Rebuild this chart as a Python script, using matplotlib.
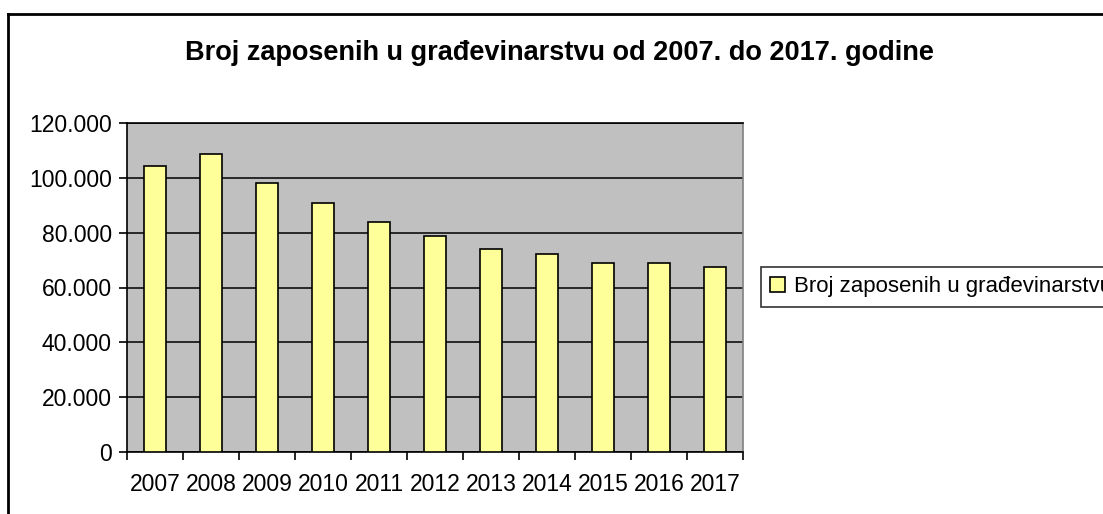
import numpy as np
import matplotlib
matplotlib.use('Agg')
import matplotlib.pyplot as plt
from matplotlib.ticker import FuncFormatter, FixedLocator
from matplotlib.patches import Patch
from matplotlib.lines import Line2D

# =====================================================================
# DATA
# =====================================================================
years = ['2007', '2008', '2009', '2010', '2011', '2012', '2013', '2014', '2015', '2016', '2017']
employed = [104300, 108800, 98000, 91000, 84000, 78900, 73900, 72100, 68800, 68800, 67500]
y_ticks = [0, 20000, 40000, 60000, 80000, 100000, 120000]

TITLE = "Broj zaposenih u građevinarstvu od 2007. do 2017. godine"
SERIES = "Broj zaposenih u građevinarstvu"

plt.rcParams['font.family'] = ['Liberation Sans', 'DejaVu Sans']

# =====================================================================
# FIGURE
# =====================================================================
fig = plt.figure(figsize=(11.03, 5.14), dpi=100)
fig.patch.set_facecolor('white')
ax = fig.add_axes([127 / 1103, 1 - 452 / 514, (743 - 127) / 1103, (452 - 123) / 514])
ax.set_facecolor('#C0C0C0')

x = np.arange(len(years))
ax.bar(x, employed, width=0.41, color='#FFFF99', edgecolor='black', linewidth=1.2, zorder=3)

ax.set_xlim(-0.5, len(years) - 0.5)
ax.set_ylim(0, 120000)
ax.set_yticks(y_ticks)
ax.yaxis.set_major_formatter(FuncFormatter(lambda v, p: f"{int(v):,}".replace(',', '.')))
ax.grid(True, axis='y', color='black', linewidth=1.1, zorder=1)

# category labels in the middle, tick marks between categories
ax.set_xticks(x)
ax.set_xticklabels(years)
ax.xaxis.set_minor_locator(FixedLocator(np.arange(-0.5, len(years), 1.0)))
ax.tick_params(axis='x', which='major', length=0, pad=15, labelsize=16.5)
ax.tick_params(axis='x', which='minor', length=6, width=1.2, direction='out')
ax.tick_params(axis='y', length=6, width=1.2, direction='out', pad=5, labelsize=16.5)

for s in ['left', 'bottom', 'top']:
    ax.spines[s].set_color('black')
    ax.spines[s].set_linewidth(1.2)
ax.spines['right'].set_color('#808080')
ax.spines['right'].set_linewidth(1.2)

fig.text(559 / 1103, 1 - 53 / 514, TITLE, ha='center', va='center',
         fontsize=19.5, fontweight='bold')

# legend sits to the right and runs off the canvas edge, as in the original
handle = Patch(facecolor='#FFFF99', edgecolor='black', linewidth=1.2)
leg = fig.legend([handle], [SERIES], loc='upper left',
                 bbox_to_anchor=(761 / 1103, 1 - 267 / 514),
                 fontsize=16, frameon=True, fancybox=False,
                 handlelength=0.65, handleheight=0.65, handletextpad=0.4,
                 borderpad=0.42, borderaxespad=0)
leg.get_frame().set_edgecolor('black')
leg.get_frame().set_linewidth(1.2)

# outer chart border (left and top only visible)
fig.add_artist(Line2D([7.5 / 1103, 7.5 / 1103], [0, 1 - 14 / 514], transform=fig.transFigure,
                      color='black', linewidth=2))
fig.add_artist(Line2D([7.5 / 1103, 1], [1 - 14 / 514, 1 - 14 / 514], transform=fig.transFigure,
                      color='black', linewidth=2))

plt.savefig("out.png", dpi=100)
